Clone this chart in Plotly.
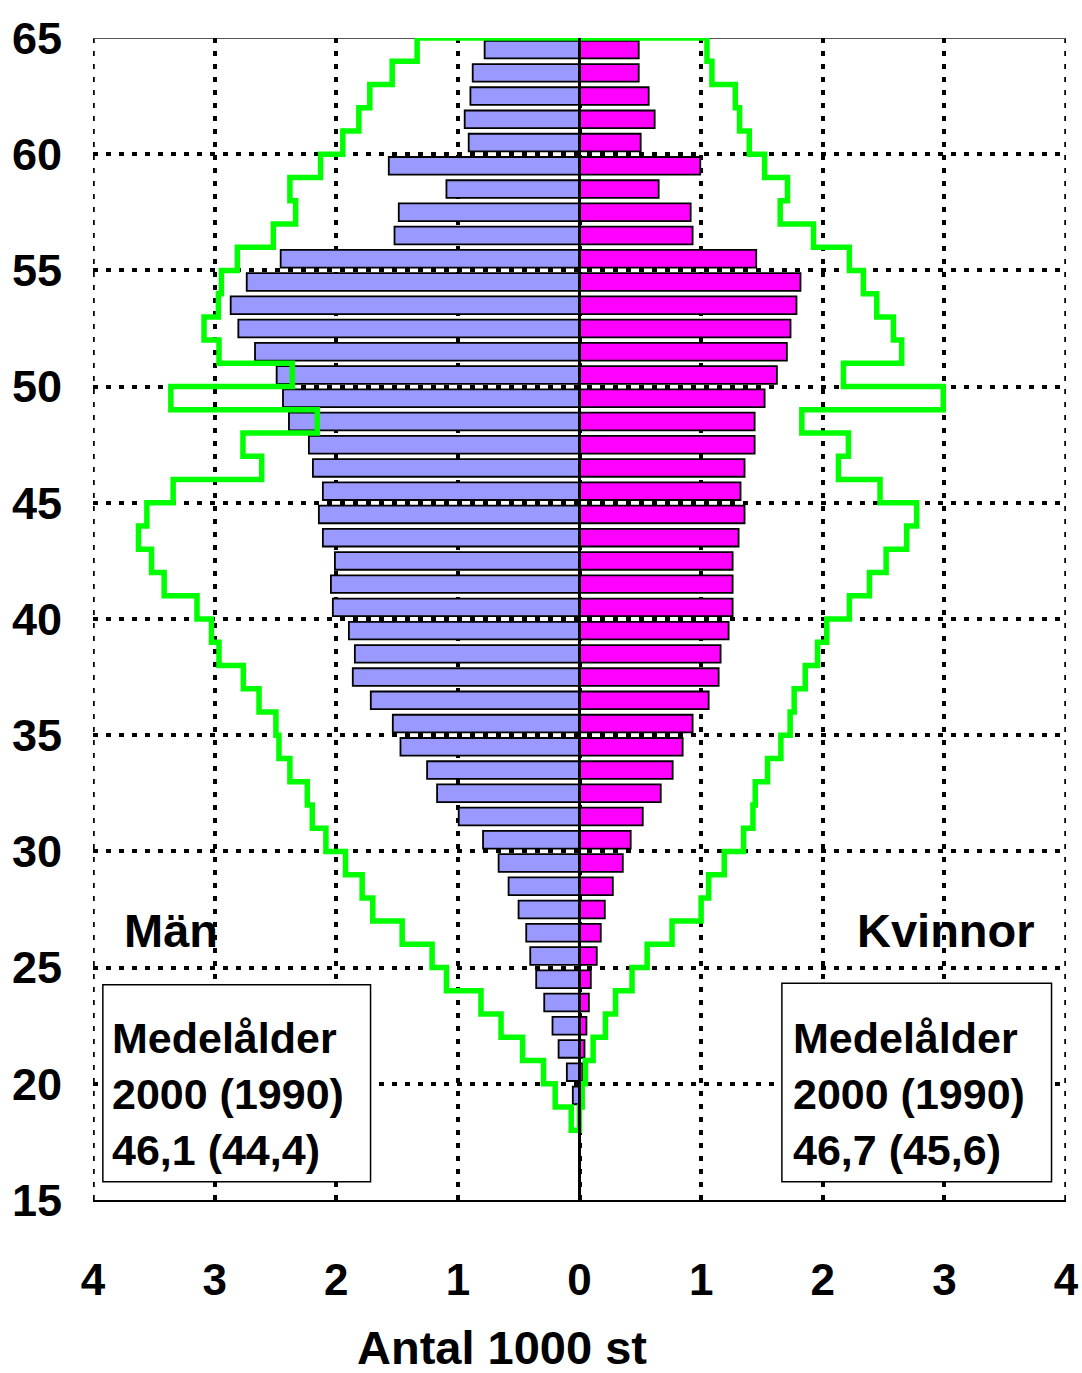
import plotly.graph_objects as go

# ---- data ----
ages_2000 = list(range(19, 65))
men_2000 = [0.055, 0.104, 0.172, 0.222, 0.290, 0.356, 0.405, 0.438, 0.501, 0.583,
            0.665, 0.793, 0.993, 1.171, 1.253, 1.472, 1.535, 1.716, 1.864, 1.847,
            1.896, 2.028, 2.044, 2.011, 2.110, 2.143, 2.110, 2.192, 2.225, 2.389,
            2.438, 2.490, 2.668, 2.805, 2.868, 2.736, 2.457, 1.521, 1.486, 1.094,
            1.568, 0.911, 0.944, 0.897, 0.878, 0.780]
women_2000 = [0.004, 0.025, 0.041, 0.057, 0.077, 0.093, 0.142, 0.175, 0.208, 0.274,
              0.356, 0.421, 0.520, 0.668, 0.766, 0.848, 0.930, 1.062, 1.144, 1.160,
              1.226, 1.259, 1.259, 1.259, 1.308, 1.357, 1.324, 1.357, 1.440, 1.440,
              1.522, 1.623, 1.705, 1.735, 1.784, 1.817, 1.453, 0.930, 0.914, 0.651,
              0.993, 0.503, 0.618, 0.569, 0.487, 0.487]

ages_1990 = list(range(18, 65))
men_1990 = [0.068, 0.200, 0.296, 0.468, 0.645, 0.810, 1.094, 1.212, 1.458, 1.700,
            1.787, 1.924, 2.085, 2.197, 2.238, 2.381, 2.471, 2.496, 2.635, 2.764,
            2.964, 3.026, 3.145, 3.415, 3.519, 3.626, 3.557, 3.341, 2.613, 2.767,
            2.156, 3.360, 2.361, 2.964, 3.087, 2.969, 2.944, 2.813, 2.517, 2.334,
            2.381, 2.129, 1.946, 1.814, 1.724, 1.540, 1.335]
women_1990 = [0.000, 0.022, 0.049, 0.112, 0.213, 0.296, 0.432, 0.556, 0.761, 1.000,
              1.062, 1.190, 1.349, 1.426, 1.445, 1.546, 1.656, 1.732, 1.765, 1.856,
              1.957, 2.033, 2.219, 2.384, 2.521, 2.690, 2.772, 2.471, 2.129, 2.211,
              1.828, 2.991, 2.170, 2.649, 2.581, 2.444, 2.334, 2.219, 1.924, 1.650,
              1.710, 1.522, 1.396, 1.316, 1.281, 1.089, 1.048]

x_ticks = [-4, -3, -2, -1, 0, 1, 2, 3, 4]
x_ticktext = ["4", "3", "2", "1", "0", "1", "2", "3", "4"]
y_ticks = [15, 20, 25, 30, 35, 40, 45, 50, 55, 60, 65]

FONT = "Liberation Sans, Arial, sans-serif"
DOT = "5px,8px"

fig = go.Figure()

# bars 2000
fig.add_trace(go.Bar(
    y=[a + 0.5 for a in ages_2000], x=[-v for v in men_2000], orientation="h",
    width=0.76, marker=dict(color="#9999FF", line=dict(color="black", width=1.8)),
    name="Män 2000", showlegend=False))
fig.add_trace(go.Bar(
    y=[a + 0.5 for a in ages_2000], x=women_2000, orientation="h",
    width=0.76, marker=dict(color="#FF00FF", line=dict(color="black", width=1.8)),
    name="Kvinnor 2000", showlegend=False))

# 1990 step outline
sx, sy = [], []
for a, v in sorted(zip(ages_1990, men_1990), reverse=True):
    sx += [-v, -v]
    sy += [a + 1, a]
for a, v in sorted(zip(ages_1990, women_1990)):
    sx += [v, v]
    sy += [a, a + 1]
sx.append(sx[0])
sy.append(sy[0])
fig.add_trace(go.Scatter(x=sx, y=sy, mode="lines",
                         line=dict(color="#00FF00", width=5.5),
                         showlegend=False, hoverinfo="skip", cliponaxis=False))

fig.update_layout(
    width=1082, height=1373,
    margin=dict(l=93, r=16, t=38, b=173, autoexpand=False),
    paper_bgcolor="white", plot_bgcolor="white",
    barmode="overlay",
    font=dict(family=FONT, color="black"),
    xaxis=dict(range=[-4, 4], tickvals=x_ticks, ticktext=x_ticktext,
               showgrid=True, gridcolor="black", gridwidth=3.5, griddash=DOT,
               zeroline=False, showline=True, linecolor="black", linewidth=2,
               ticks="", ticklabelstandoff=40, automargin=False,
               tickfont=dict(size=44, family=FONT, weight="bold")),
    yaxis=dict(range=[15, 65], tickvals=y_ticks,
               showgrid=True, gridcolor="black", gridwidth=3.5, griddash=DOT,
               zeroline=False, showline=False, automargin=False,
               ticks="", ticklabelstandoff=30,
               tickfont=dict(size=45, family=FONT, weight="bold")),
)

# left / right dotted borders, top solid grey line, zero line
for xv in (-4, 4):
    fig.add_shape(type="line", xref="x", yref="y", x0=xv, x1=xv, y0=15, y1=65,
                  line=dict(color="black", width=3.5, dash=DOT), layer="below")
fig.add_shape(type="line", xref="x", yref="y", x0=-4, x1=4, y0=65, y1=65,
              line=dict(color="#555555", width=2), layer="below")
fig.add_shape(type="line", xref="x", yref="y", x0=0, x1=0, y0=15, y1=65,
              line=dict(color="black", width=3), layer="above")

# boxes
fig.add_shape(type="rect", xref="x", yref="y", x0=-3.919, x1=-1.718, y0=15.78, y1=24.26,
              line=dict(color="black", width=1.5), fillcolor="white", layer="above")
fig.add_shape(type="rect", xref="x", yref="y", x0=1.664, x1=3.881, y0=15.78, y1=24.33,
              line=dict(color="black", width=1.5), fillcolor="white", layer="above")

fig.add_annotation(x=-3.86, y=19.57, xref="x", yref="y", xanchor="left", yanchor="middle",
                   align="left", showarrow=False,
                   text="<b>Medelålder<br>2000 (1990)<br>46,1 (44,4)</b>",
                   font=dict(size=43, family=FONT, color="black"))
fig.add_annotation(x=1.738, y=19.57, xref="x", yref="y", xanchor="left", yanchor="middle",
                   align="left", showarrow=False,
                   text="<b>Medelålder<br>2000 (1990)<br>46,7 (45,6)</b>",
                   font=dict(size=43, family=FONT, color="black"))

fig.add_annotation(x=-3.36, y=26.58, xref="x", yref="y", showarrow=False,
                   text="<b>Män</b>", font=dict(size=47, family=FONT, color="black"))
fig.add_annotation(x=3.01, y=26.58, xref="x", yref="y", showarrow=False,
                   text="<b>Kvinnor</b>", font=dict(size=47, family=FONT, color="black"))

fig.add_annotation(x=-0.635, y=-0.127, xref="x", yref="paper", yanchor="middle",
                   showarrow=False,
                   text="<b>Antal 1000 st</b>", font=dict(size=47, family=FONT, color="black"))

# remove the browser's default 8px page margin so the figure fills the window
fig.write_html("out.html",
               config={"displayModeBar": False},
               post_script="document.body.style.margin='0';"
                           "document.documentElement.style.overflow='hidden';")
